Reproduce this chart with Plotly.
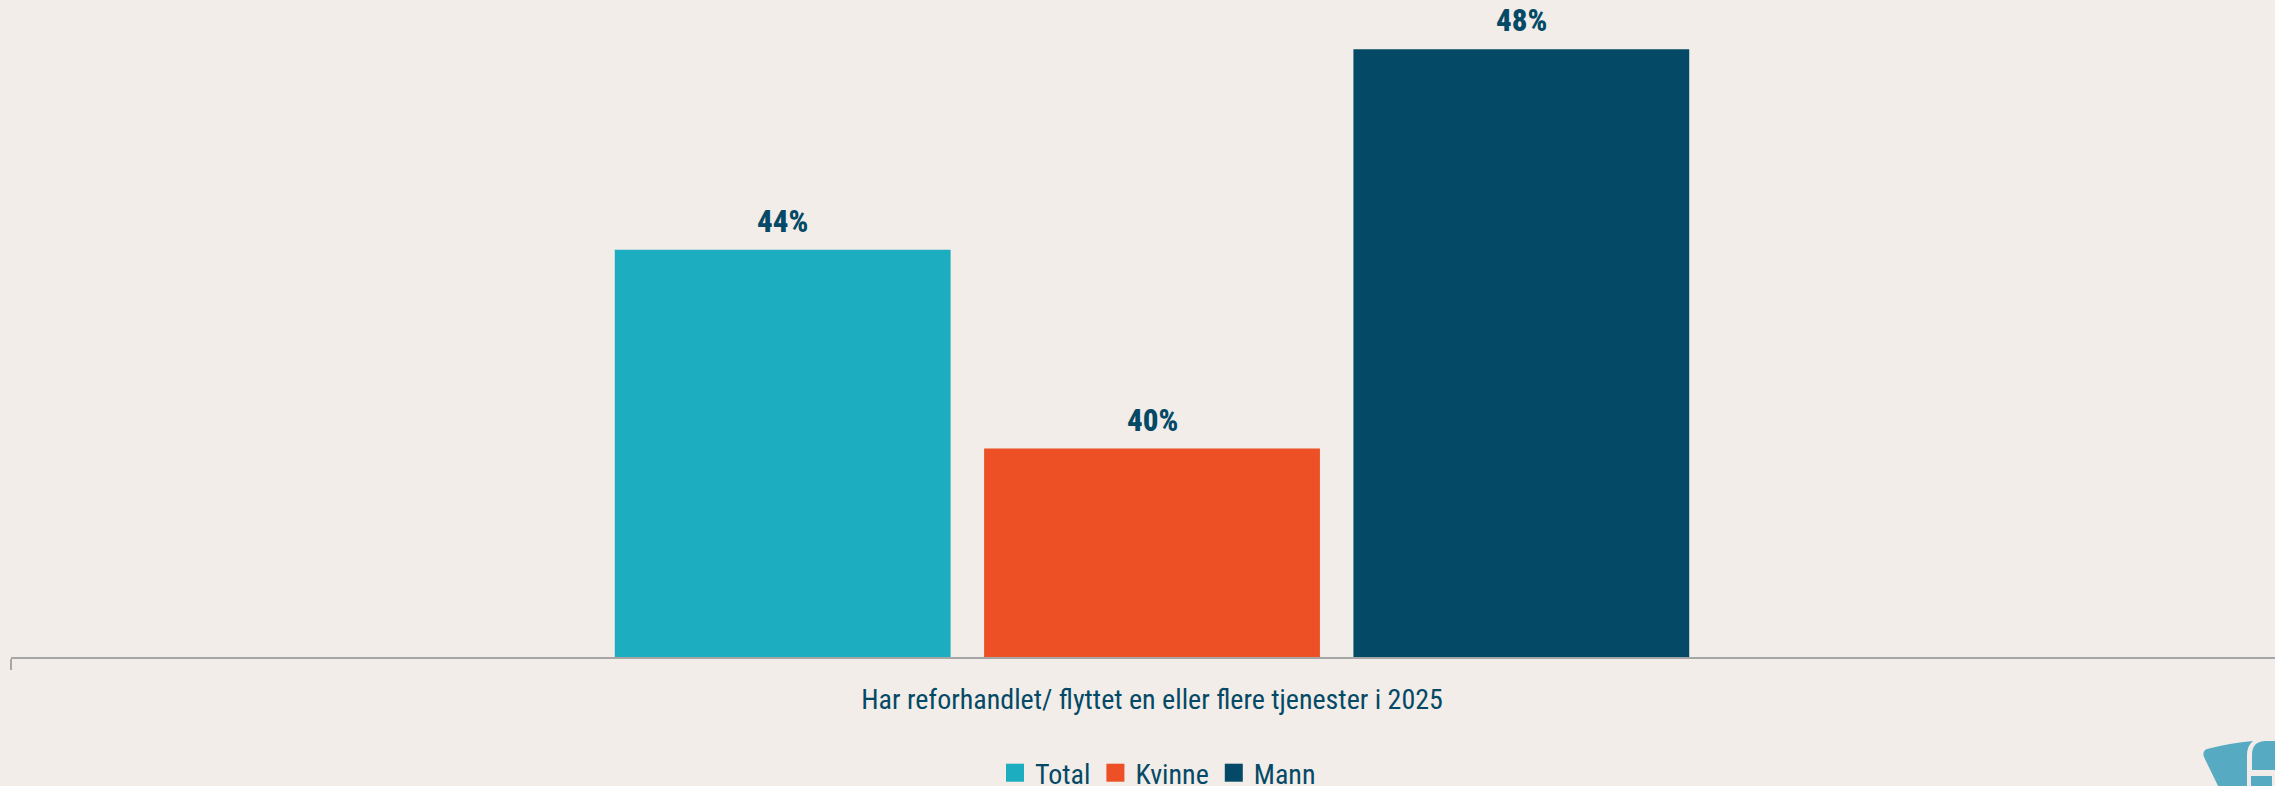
import plotly.graph_objects as go

categories = ["Har reforhandlet/ flyttet en eller flere tjenester i 2025"]
series_names = ["Total", "Kvinne", "Mann"]
series_values = [[44.0], [40.03], [48.0]]
series_colors = ["#1CADC1", "#EC5024", "#044965"]

BG = "#F2EDE9"
TEXT = "#044965"
FONT = "Roboto Condensed"
W, H = 2275, 786
L, BASE = 11, 657
BARGAP = 0.5145


def px(x):
    return (x - L) / (W - L)


def py(y):
    return (BASE - y) / BASE


def path(points):
    out = []
    for p in points:
        cmd, coords = p[0], p[1:]
        vals = [f"{px(coords[i]):.5f},{py(coords[i + 1]):.5f}" for i in range(0, len(coords), 2)]
        out.append(cmd + " ".join(vals))
    return " ".join(out) + " Z"


fig = go.Figure()
for name, vals, col in zip(series_names, series_values, series_colors):
    fig.add_bar(
        name=name,
        x=categories,
        y=vals,
        marker=dict(color=col, line=dict(width=0)),
        cliponaxis=False,
        hoverinfo="skip",
    )

slot = (1 - BARGAP) / len(series_names)
labels = [
    dict(
        x=(i - 1) * slot,
        y=vals[0],
        xref="x",
        yref="y",
        text=f"{vals[0]:.0f}%",
        showarrow=False,
        xanchor="center",
        yanchor="bottom",
        yshift=8,
        font=dict(family=FONT, size=31, color=TEXT, weight=800),
    )
    for i, vals in enumerate(series_values)
]

LOGO = "#56ABC2"
logo_shapes = [
    [("M", 2207, 749), ("Q", 2230, 743, 2253, 741), ("Q", 2247, 746, 2247, 755), ("L", 2247, 790),
     ("L", 2220, 790), ("L", 2204, 757), ("Q", 2202, 751, 2207, 749)],
    [("M", 2252, 770), ("L", 2252, 755), ("Q", 2252, 741, 2266, 741), ("L", 2280, 741), ("L", 2280, 770)],
    [("M", 2251, 776), ("L", 2272, 776), ("L", 2272, 790), ("L", 2251, 790)],
]

fig.update_layout(
    width=W,
    height=H,
    autosize=False,
    paper_bgcolor=BG,
    plot_bgcolor=BG,
    barmode="group",
    bargap=BARGAP,
    bargroupgap=0.0907,
    margin=dict(l=L, r=0, t=0, b=H - BASE, autoexpand=False),
    font=dict(family=FONT, size=28, color=TEXT),
    xaxis=dict(
        type="category",
        range=[-0.5, 0.4921],
        showline=True,
        linecolor="#A6A6A6",
        linewidth=2,
        ticks="outside",
        tickson="boundaries",
        ticklen=11,
        tickwidth=2,
        tickcolor="#A6A6A6",
        showgrid=False,
        zeroline=False,
        tickfont=dict(family=FONT, size=28, color=TEXT),
        ticklabelstandoff=16,
    ),
    yaxis=dict(visible=False, range=[35.87, 35.87 + 657 / 50.1], fixedrange=True),
    showlegend=True,
    legend=dict(
        orientation="h",
        x=px(1158),
        xanchor="center",
        y=py(748),
        yanchor="top",
        bgcolor="rgba(0,0,0,0)",
        font=dict(family=FONT, size=28, color=TEXT),
        itemclick=False,
        itemdoubleclick=False,
    ),
    annotations=labels,
    shapes=[
        dict(type="path", xref="paper", yref="paper", path=path(p), fillcolor=LOGO, line=dict(width=0), layer="above")
        for p in logo_shapes
    ],
)

fig.write_html(
    "out.html",
    config={"displayModeBar": False},
    post_script=(
        "document.body.style.margin='0';document.body.style.overflow='hidden';"
        "document.querySelectorAll('.legendpoints path').forEach(function(e){e.setAttribute('d','M9,9H-9V-9H9Z');});"
    ),
)
